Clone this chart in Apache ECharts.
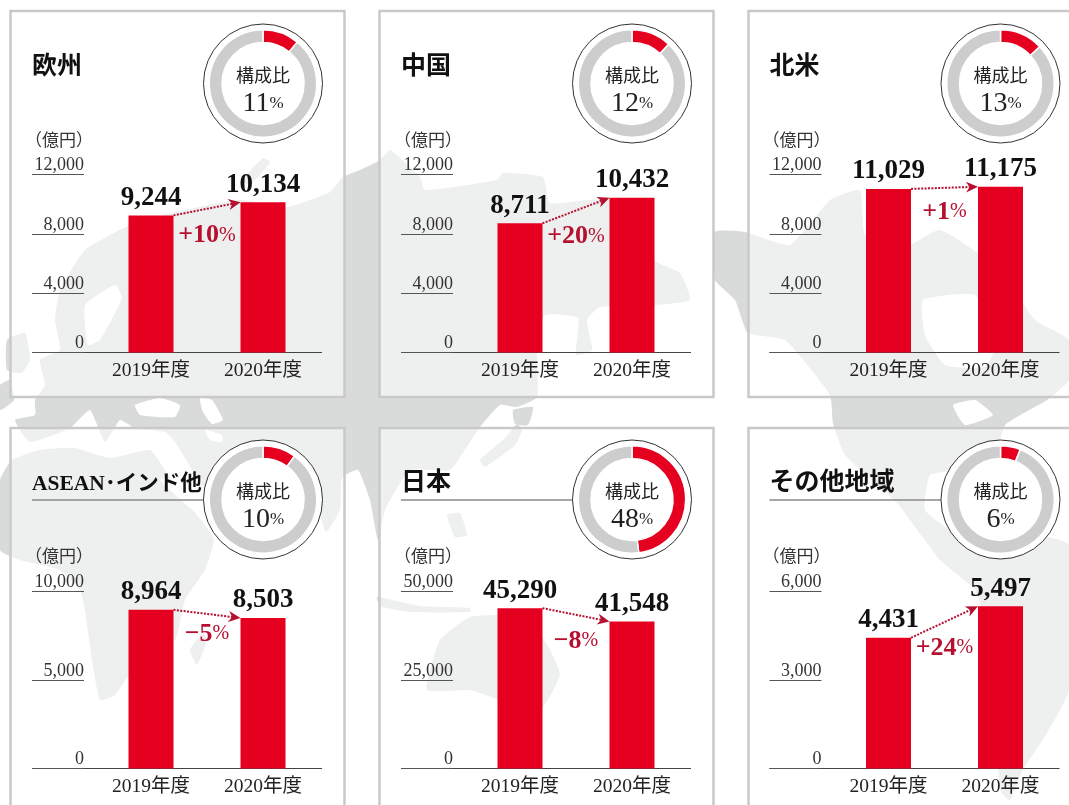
<!DOCTYPE html>
<html>
<head>
<meta charset="utf-8">
<style>
html, body { margin: 0; padding: 0; background: #fff; }
#main { width: 1069px; height: 805px; }
</style>
<script src="https://cdn.jsdelivr.net/npm/echarts@6/dist/echarts.min.js"></script>
</head>
<body>
<div id="main"></div>
<script>
// 数値
var regions = ['欧州', '中国', '北米', 'ASEAN･インド他', '日本', 'その他地域'];
var shares = [11, 12, 13, 10, 48, 6];
var years = ['2019年度', '2020年度'];
var sales2019 = [9244, 8711, 11029, 8964, 45290, 4431];
var sales2020 = [10134, 10432, 11175, 8503, 41548, 5497];
var changes = ['+10', '+20', '+1', '−5', '−8', '+24'];
var axisMax = [12000, 12000, 12000, 10000, 50000, 6000];
var axisStep = [4000, 4000, 4000, 5000, 25000, 3000];

// レイアウト
var colX = [0, 369, 737.5];
var rowTop = [174.5, 591.5];
var rowTitleY = [68, 484];
var rowUnitY = [142, 558];
var rowPanel = [[11, 386], [428, 400]];
var rowPie = [83.5, 499.5];
var changeDy = [27, 26, 24, 20, 26, 26];
var serif = '"Liberation Serif", "Noto Sans CJK JP"';
var RED = '#e60020', ARROW = '#b5102f', INK = '#222';

// 背景の世界地図(装飾のみ)
var mapLand = [
  [[35,400],[45,385],[40,360],[60,350],[55,320],[60,290],[85,250],[130,225],[175,212],[240,200],[287,207],[330,192],[343,177],[360,170],[380,160],[390,150],[420,177],[425,190],[497,180],[503,173],[543,177],[550,203],[610,200],[653,260],[680,273],[690,300],[655,305],[600,307],[587,320],[592,350],[576,355],[578,318],[545,315],[537,345],[537,397],[517,407],[500,405],[480,427],[470,442],[450,470],[410,470],[385,510],[378,540],[370,500],[358,470],[342,478],[340,510],[326,532],[316,500],[300,472],[265,470],[232,520],[205,490],[175,442],[165,432],[135,428],[120,420],[105,442],[90,410],[70,428],[30,442],[15,420],[35,415]],
  [[0,480],[12,460],[40,450],[75,448],[110,458],[150,450],[165,470],[185,500],[205,525],[214,540],[205,570],[185,600],[175,640],[140,660],[115,695],[100,700],[92,660],[85,610],[80,590],[60,570],[20,560],[0,550]],
  [[7,340],[25,333],[30,360],[22,373],[7,370]],
  [[0,385],[10,380],[14,400],[0,410]],
  [[263,158],[270,162],[250,185],[243,180]],
  [[190,650],[203,633],[207,640],[197,665]],
  [[513,410],[533,407],[528,425],[515,424]],
  [[517,424],[522,430],[515,445],[485,467],[480,460],[505,438]],
  [[447,515],[460,513],[467,535],[455,537]],
  [[377,597],[420,606],[470,608],[470,612],[410,612],[380,606]],
  [[427,690],[440,640],[470,617],[505,615],[530,620],[550,650],[560,675],[540,710],[500,700],[470,690]],
  [[715,232],[745,232],[790,245],[830,200],[860,190],[865,235],[900,250],[940,230],[1000,270],[1035,320],[1069,340],[1069,380],[1047,400],[1005,425],[995,460],[985,445],[955,470],[930,475],[925,510],[950,530],[993,553],[1030,535],[1069,545],[1069,690],[1047,733],[1023,770],[1010,800],[1000,790],[995,700],[985,620],[975,590],[940,560],[897,503],[845,455],[833,423],[830,395],[785,340],[748,333],[735,300],[715,280]]
];
var mapSea = [
  [[135,405],[160,398],[180,405],[175,417],[140,415]],
  [[200,398],[212,400],[223,420],[212,424],[203,412]],
  [[85,305],[115,285],[122,298],[100,340],[88,345]],
  [[923,300],[975,295],[998,340],[985,367],[945,365],[925,335]],
  [[953,405],[975,400],[993,415],[965,425]],
  [[205,430],[222,435],[222,442],[210,440]],
  [[160,480],[168,478],[200,508],[195,512]]
];

var chart = echarts.init(document.getElementById('main'));

var graphics = [];
mapLand.forEach(function (pts) {
  graphics.push({ type: 'polygon', z: 0, silent: true, shape: { points: pts, smooth: 0.15 }, style: { fill: '#d8dbda' } });
});
mapSea.forEach(function (pts) {
  graphics.push({ type: 'polygon', z: 1, silent: true, shape: { points: pts, smooth: 0.15 }, style: { fill: '#fff' } });
});

var grids = [], xAxes = [], yAxes = [], series = [];

regions.forEach(function (name, i) {
  var col = i % 3, row = Math.floor(i / 3);
  var dx = colX[col];
  var top = rowTop[row];
  var height = row === 0 ? 178 : 177;
  var base = top + height;
  var panelX = col === 2 ? 748 : 10 + dx;
  var panelW = col === 2 ? 340 : 334;

  // パネル
  graphics.push({
    type: 'rect', z: 2, silent: true,
    shape: { x: panelX + 0.5, y: rowPanel[row][0], width: panelW, height: rowPanel[row][1] },
    style: { fill: 'rgba(255,255,255,0.56)', stroke: '#c9c9c9', lineWidth: 2.5 }
  });
  // 見出し
  graphics.push({
    type: 'text', z: 8, silent: true, x: 32 + dx, y: rowTitleY[row],
    style: { text: name, font: 'bold ' + (i === 3 ? 21.5 : 25) + 'px ' + serif, fill: '#111', verticalAlign: 'middle' }
  });
  if (row === 1) {
    graphics.push({
      type: 'line', z: 3, silent: true,
      shape: { x1: 32 + dx, y1: 500, x2: 210 + dx, y2: 500 },
      style: { stroke: '#8a8a8a', lineWidth: 1.3 }
    });
  }
  // 単位
  graphics.push({
    type: 'text', z: 8, silent: true, x: 25 + dx, y: rowUnitY[row],
    style: { text: '（億円）', font: '17px ' + serif, fill: '#333', verticalAlign: 'middle' }
  });
  // 基準線
  graphics.push({
    type: 'line', z: 5, silent: true,
    shape: { x1: 32 + dx, y1: Math.floor(base) + 0.5, x2: 322 + dx, y2: Math.floor(base) + 0.5 },
    style: { stroke: '#444', lineWidth: 1 }
  });
  // 構成比の円
  graphics.push({
    type: 'circle', z: 4, silent: true,
    shape: { cx: 263 + dx, cy: rowPie[row], r: 59.5 },
    style: { fill: '#fff', stroke: '#333', lineWidth: 1 }
  });

  grids.push({ left: 95 + dx, top: top, width: 224, height: height, outerBoundsMode: 'none' });
  xAxes.push({
    type: 'category', gridIndex: i, data: years, z: 5,
    axisLine: { show: false }, axisTick: { show: false },
    axisLabel: { color: INK, fontFamily: serif, fontSize: 19.5, margin: 9, interval: 0 }
  });
  yAxes.push({
    type: 'value', gridIndex: i, min: 0, max: axisMax[i], interval: axisStep[i], offset: 11, z: 5,
    splitLine: { show: false }, axisLine: { show: false },
    axisTick: { show: true, length: 52, lineStyle: { color: '#555', width: 1 } },
    axisLabel: {
      color: '#333', fontFamily: serif, fontSize: 18, margin: 0, verticalAlign: 'bottom',
      formatter: function (v) { return v.toLocaleString('en-US'); }
    }
  });

  series.push({
    type: 'bar', xAxisIndex: i, yAxisIndex: i, barWidth: 45, z: 6, silent: true,
    data: [sales2019[i], sales2020[i]],
    itemStyle: { color: RED },
    label: {
      show: true, position: 'top', distance: 4, color: '#111',
      fontFamily: serif, fontWeight: 'bold', fontSize: 27,
      formatter: function (p) { return p.value.toLocaleString('en-US'); }
    }
  });

  // 増減の矢印
  series.push({
    type: 'custom', xAxisIndex: i, yAxisIndex: i, z: 7, silent: true,
    dimensions: ['x0', 'y0', 'x1', 'y1'],
    encode: { x: [0, 2], y: [1, 3] },
    data: [[years[0], sales2019[i], years[1], sales2020[i]]],
    renderItem: function (params, api) {
      var a = api.coord([0, api.value(1)]);
      var b = api.coord([1, api.value(3)]);
      var x0 = a[0] + 22.5, y0 = a[1], x1 = b[0] - 22.5, y1 = b[1];
      var ang = Math.atan2(y1 - y0, x1 - x0);
      var c = Math.cos(ang), s = Math.sin(ang);
      function pt(along, side) { return [x1 - along * c - side * s, y1 - along * s + side * c]; }
      return {
        type: 'group',
        children: [
          { type: 'line', shape: { x1: x0, y1: y0, x2: x1 - 6 * c, y2: y1 - 6 * s },
            style: { stroke: ARROW, lineWidth: 2, lineDash: [2, 1.4] } },
          { type: 'polygon', shape: { points: [pt(0, 0), pt(12, 5.5), pt(8.5, 0), pt(12, -5.5)] },
            style: { fill: ARROW } },
          { type: 'text', x: (x0 + x1) / 2, y: (y0 + y1) / 2 + changeDy[i],
            style: {
              text: '{a|' + changes[i] + '}{b|%}', align: 'center', verticalAlign: 'middle',
              rich: {
                a: { fontFamily: serif, fontSize: 26, fontWeight: 'bold', fill: ARROW, color: ARROW },
                b: { fontFamily: serif, fontSize: 20, fill: ARROW, color: ARROW }
              }
            } }
        ]
      };
    }
  });

  series.push({
    type: 'pie', z: 7, silent: true, animation: false,
    center: [263 + dx, rowPie[row]], radius: [41, 53.7], startAngle: 90, clockwise: true,
    data: [
      { value: shares[i], itemStyle: { color: RED } },
      { value: 100 - shares[i], itemStyle: { color: '#cdcdcd' }, label: { show: false } }
    ],
    itemStyle: { borderColor: '#fff', borderWidth: 1.5 },
    labelLine: { show: false },
    emphasis: { disabled: true },
    label: {
      show: true, position: 'center', offset: [0, 7],
      formatter: function (p) { return '{t|構成比}\n{v|' + p.value + '}{u|%}'; },
      rich: {
        t: { fontFamily: serif, fontSize: 18, color: INK, lineHeight: 26 },
        v: { fontFamily: serif, fontSize: 28, color: INK, lineHeight: 26 },
        u: { fontFamily: serif, fontSize: 17, color: INK, lineHeight: 26 }
      }
    }
  });
});

var option = {
  backgroundColor: '#fff',
  animation: false,
  grid: grids,
  xAxis: xAxes,
  yAxis: yAxes,
  graphic: { elements: graphics },
  series: series
};
chart.setOption(option);
</script>
</body>
</html>
